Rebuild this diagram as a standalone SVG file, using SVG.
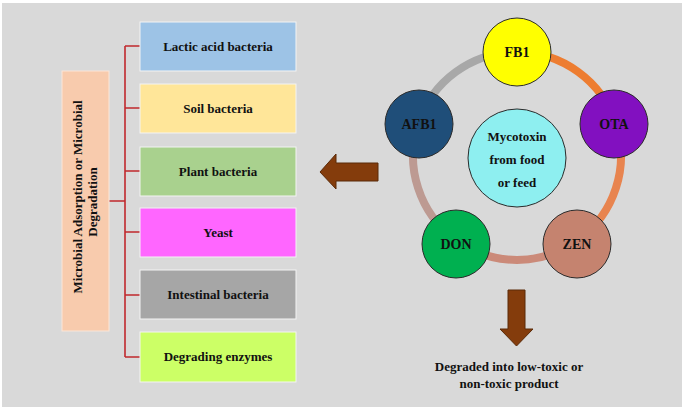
<svg xmlns="http://www.w3.org/2000/svg" width="685" height="409" viewBox="0 0 685 409">
<defs>
<style>
.t{font-family:"Liberation Serif","Times New Roman",serif;font-weight:bold;fill:#111;text-anchor:middle}
.box{stroke:#f4f4f4;stroke-width:1}
.node{stroke:#2b2b2b;stroke-width:1}
.br{stroke:#c0282d;stroke-width:1.6;fill:none}
.ring{fill:none;stroke-width:8}
.arrow{fill:#843c0c;stroke:#5a2a08;stroke-width:1}
</style>
</defs>
<rect x="0" y="0" width="685" height="409" fill="#ffffff"/>
<rect x="2" y="3" width="680" height="404" fill="#d9d9d9"/>

<g id="connectors">
<path class="br" d="M109,201 H125 M125,46 V357 M125,46 H140 M125,108 H140 M125,171 H140 M125,232 H140 M125,295 H140 M125,357 H140"/>
<path class="ring" stroke="#a8a8a8" d="M418.1,123.9 A104,104 0 0 1 517,52"/>
<path class="ring" stroke="#ed7d31" d="M517,52 A104,104 0 0 1 615.9,123.9"/>
<path class="ring" stroke="#e8844f" d="M615.9,123.9 A104,104 0 0 1 578.1,240.1"/>
<path class="ring" stroke="#cb8a79" d="M578.1,240.1 A104,104 0 0 1 455.9,240.1"/>
<path class="ring" stroke="#bd9a92" d="M455.9,240.1 A104,104 0 0 1 418.1,123.9"/>
<path id="arrow-left" class="arrow" d="M320,172 L336,154 L336,163 L378,163 L378,181 L336,181 L336,189 Z"/>
<path id="arrow-down" class="arrow" d="M508,290 H525 V329 H533 L516.5,346 L500,329 H508 Z"/>
</g>

<g id="label-main">
<rect x="62" y="71" width="47" height="260" fill="#f8cbad" stroke="#fbe6d8" stroke-width="1"/>
<text class="t" font-size="13" transform="translate(82,197) rotate(-90)">Microbial Adsorption or Microbial</text>
<text class="t" font-size="13" transform="translate(97,202) rotate(-90)">Degradation</text>
</g>

<g id="box-lactic"><rect class="box" x="140" y="22" width="156" height="49" fill="#9dc3e6"/><text class="t" font-size="13" x="218" y="51">Lactic acid bacteria</text></g>
<g id="box-soil"><rect class="box" x="140" y="84" width="156" height="49" fill="#ffe699"/><text class="t" font-size="13" x="218" y="113">Soil bacteria</text></g>
<g id="box-plant"><rect class="box" x="140" y="147" width="156" height="49" fill="#a9d18e"/><text class="t" font-size="13" x="218" y="176">Plant bacteria</text></g>
<g id="box-yeast"><rect class="box" x="140" y="208" width="156" height="49" fill="#ff66ff"/><text class="t" font-size="13" x="218" y="237">Yeast</text></g>
<g id="box-intestinal"><rect class="box" x="140" y="270" width="156" height="49" fill="#a6a6a6"/><text class="t" font-size="13" x="218" y="299">Intestinal bacteria</text></g>
<g id="box-enzymes"><rect class="box" x="140" y="332" width="156" height="50" fill="#ccff66"/><text class="t" font-size="13" x="218" y="361">Degrading enzymes</text></g>

<g id="node-center"><circle class="node" cx="517" cy="158" r="49" fill="#8eeff0"/>
<text class="t" font-size="13" x="517" y="141">Mycotoxin</text>
<text class="t" font-size="13" x="517" y="164">from food</text>
<text class="t" font-size="13" x="517" y="187">or feed</text></g>
<g id="node-fb1"><circle class="node" cx="517" cy="52" r="34" fill="#ffff00"/><text class="t" font-size="14" x="517" y="57">FB1</text></g>
<g id="node-ota"><circle class="node" cx="614" cy="124" r="34" fill="#8210c0"/><text class="t" font-size="14" x="614" y="129">OTA</text></g>
<g id="node-zen"><circle class="node" cx="577" cy="244" r="34" fill="#c5836f"/><text class="t" font-size="14" x="577" y="249">ZEN</text></g>
<g id="node-don"><circle class="node" cx="456" cy="244" r="34" fill="#00b050"/><text class="t" font-size="14" x="456" y="249">DON</text></g>
<g id="node-afb1"><circle class="node" cx="419" cy="124" r="34" fill="#1f4e79"/><text class="t" font-size="14" x="419" y="129">AFB1</text></g>

<g id="result-text">
<text class="t" font-size="13" x="509" y="371">Degraded into low-toxic or</text>
<text class="t" font-size="13" x="509" y="388">non-toxic product</text>
</g>
</svg>
